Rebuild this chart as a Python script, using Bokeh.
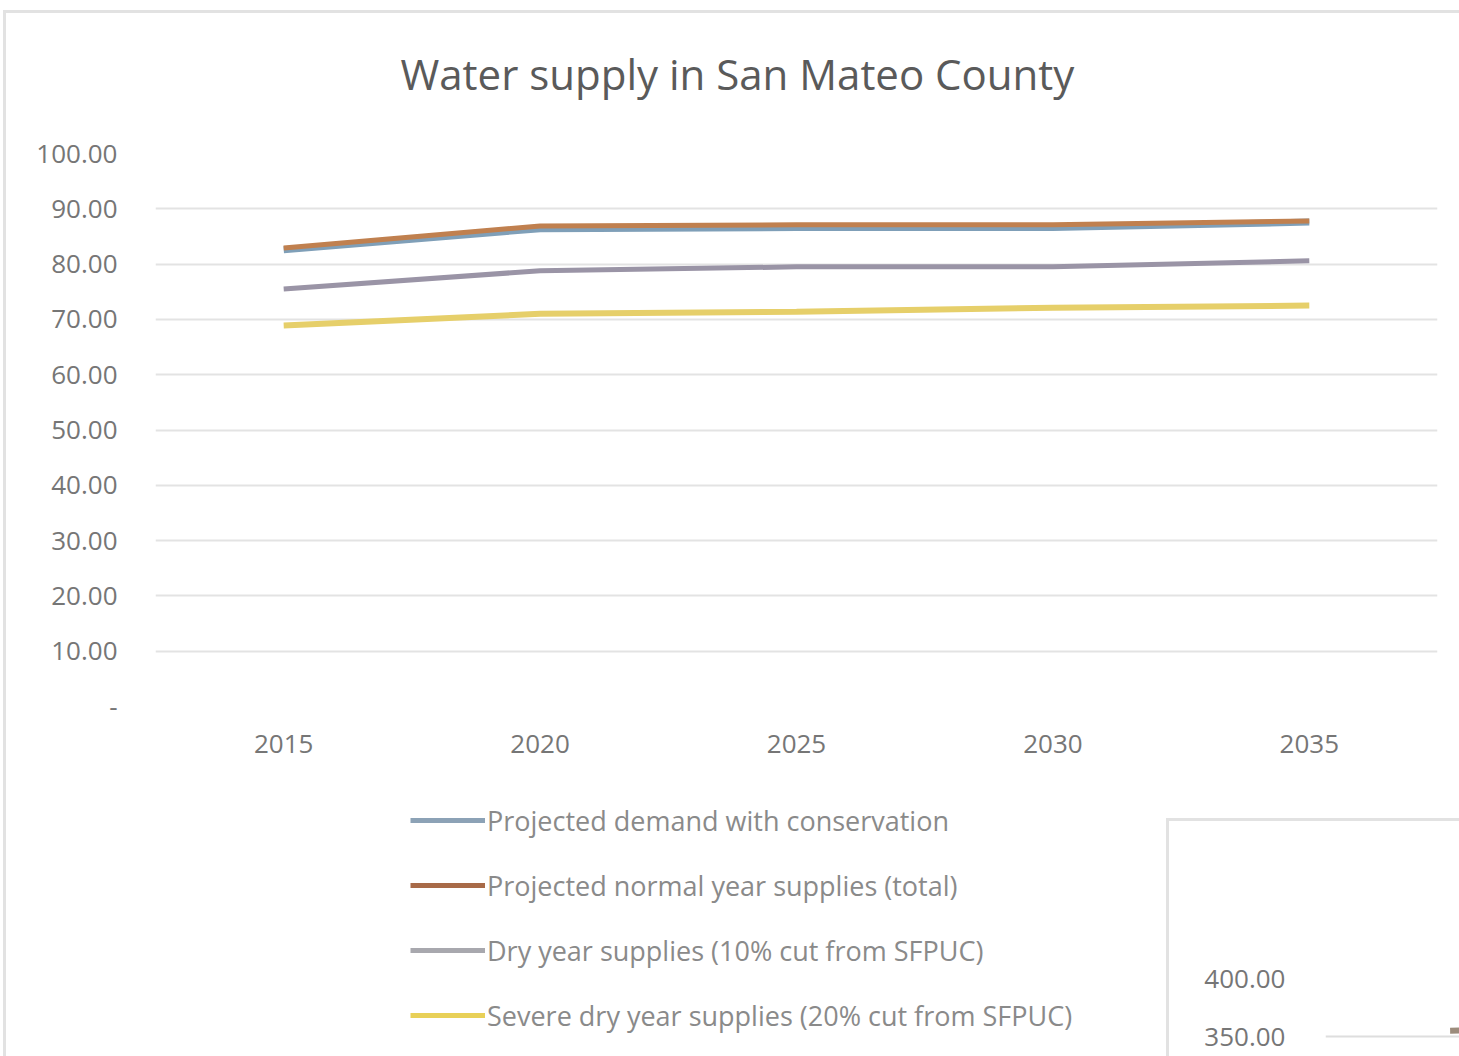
from bokeh.plotting import figure
from bokeh.models import (Spacer, Legend, LegendItem, FixedTicker, Range1d,
                          FactorRange, Title)
from bokeh.layouts import column, row
from bokeh.embed import file_html
from bokeh.resources import INLINE

# ---------------- data ----------------
title_text = "Water supply in San Mateo County"
years = ["2015", "2020", "2025", "2030", "2035"]
demand = [82.6, 86.4, 86.6, 86.6, 87.6]      # Projected demand with conservation
normal = [82.9, 86.9, 87.1, 87.1, 87.8]      # Projected normal year supplies (total)
dry = [75.5, 78.8, 79.5, 79.5, 80.6]         # Dry year supplies (10% cut from SFPUC)
severe = [68.9, 71.0, 71.4, 72.1, 72.5]      # Severe dry year supplies (20% cut from SFPUC)

series_names = [
    "Projected demand with conservation",
    "Projected normal year supplies (total)",
    "Dry year supplies (10% cut from SFPUC)",
    "Severe dry year supplies (20% cut from SFPUC)",
]
y_ticks = [0, 10, 20, 30, 40, 50, 60, 70, 80, 90, 100]
y_tick_labels = ["-", "10.00", "20.00", "30.00", "40.00", "50.00",
                 "60.00", "70.00", "80.00", "90.00", "100.00"]

inset_ticks = [350, 400]
inset_tick_labels = ["350.00", "400.00"]
inset_values = [355, 357]

line_colors = ["#7f9fb8", "#c0804f", "#9a94a6", "#e6cf6a"]
legend_colors = ["#8ca2b6", "#a86a48", "#a8a8ae", "#e8d058"]

FONT = "Open Sans"
GRID = "#e3e3e3"
BORDER = "#e2e2e2"
TICK_COLOR = "#767676"

# ---------------- main chart ----------------
p = figure(width=1453, height=787, x_range=FactorRange(factors=years),
           y_range=Range1d(0, 100), output_backend="svg", toolbar_location=None,
           min_border_left=149, min_border_right=22, min_border_top=140,
           min_border_bottom=94)
p.outline_line_color = None
p.title.text = title_text
p.title.text_font = FONT
p.title.text_font_size = "42px"
p.title.text_font_style = "normal"
p.title.text_color = "#5a5a5a"
p.title.align = "left"
p.title.offset = 245
p.title.vertical_align = "top"
p.title.standoff = 62
# blank strip between title and plot area (pushes the title upward)
p.add_layout(Title(text=" ", text_font_size="8px", standoff=8), "above")

p.xgrid.visible = False
p.ygrid.grid_line_color = GRID
p.ygrid.grid_line_width = 2
p.yaxis.ticker = FixedTicker(ticks=y_ticks)
p.yaxis.major_label_overrides = {t: l for t, l in zip(y_ticks, y_tick_labels)}
for ax in (p.xaxis, p.yaxis):
    ax.axis_line_color = None
    ax.major_tick_line_color = None
    ax.minor_tick_line_color = None
    ax.major_label_text_font = FONT
    ax.major_label_text_font_size = "26px"
    ax.major_label_text_color = TICK_COLOR
p.yaxis.major_label_standoff = 32
p.xaxis.major_label_standoff = 22

data = [demand, normal, dry, severe]
widths = [7, 5, 5, 6]
for vals, col, w in zip(data, line_colors, widths):
    p.line(x=years, y=vals, line_color=col, line_width=w)

# ---------------- legend area ----------------
# the legend lives in its own figure; its swatch lines are the same series,
# kept outside this figure's visible range
lf = figure(width=1160, height=256, x_range=Range1d(0, 1), y_range=Range1d(0, 1),
            output_backend="svg", toolbar_location=None,
            x_axis_location=None, y_axis_location=None,
            min_border_left=0, min_border_right=0, min_border_top=0,
            min_border_bottom=0)
lf.outline_line_color = None
lf.grid.visible = False
items = []
for name, vals, col in zip(series_names, data, legend_colors):
    r = lf.line(x=list(range(len(vals))), y=vals, line_color=col, line_width=5)
    items.append(LegendItem(label=name, renderers=[r]))
legend = Legend(items=items, location=(404, 21), orientation="vertical",
                glyph_width=75, glyph_height=40, label_height=40, spacing=25,
                padding=0, margin=0, border_line_color=None,
                background_fill_alpha=0, label_standoff=2,
                label_text_font=FONT, label_text_font_size="27px",
                label_text_color="#8a8a8a")
lf.add_layout(legend)

# ---------------- partial inset chart ----------------
inset = figure(width=290, height=235, x_range=Range1d(-0.93, 0.07),
               y_range=Range1d(332.8, 400), output_backend="svg",
               toolbar_location=None, x_axis_location=None,
               min_border_left=156, min_border_right=0, min_border_top=157,
               min_border_bottom=0)
inset.outline_line_color = None
inset.xgrid.visible = False
inset.ygrid.grid_line_color = "#dedede"
inset.ygrid.grid_line_width = 2
inset.yaxis.ticker = FixedTicker(ticks=inset_ticks)
inset.yaxis.major_label_overrides = {t: l for t, l in zip(inset_ticks, inset_tick_labels)}
inset.yaxis.axis_line_color = None
inset.yaxis.major_tick_line_color = None
inset.yaxis.minor_tick_line_color = None
inset.yaxis.major_label_text_font = FONT
inset.yaxis.major_label_text_font_size = "26px"
inset.yaxis.major_label_text_color = TICK_COLOR
inset.yaxis.major_label_standoff = 34
inset.line(x=list(range(len(inset_values))), y=inset_values,
           line_color="#9c8c7c", line_width=6)


def bar(w, h, color=None):
    if color is None:
        return Spacer(width=w, height=h)
    return Spacer(width=w, height=h, styles={"background-color": color})


inset_col = column(bar(293, 18), bar(293, 3, BORDER),
                   row(bar(3, 235, BORDER), inset, spacing=0), spacing=0)
inner = column(bar(1453, 3, BORDER), p, row(lf, inset_col, spacing=0), spacing=0)
layout = column(bar(1459, 10),
                row(bar(3, 1046), bar(3, 1046, BORDER), inner, spacing=0),
                spacing=0)

open("out.html", "w").write(file_html(layout, INLINE))
